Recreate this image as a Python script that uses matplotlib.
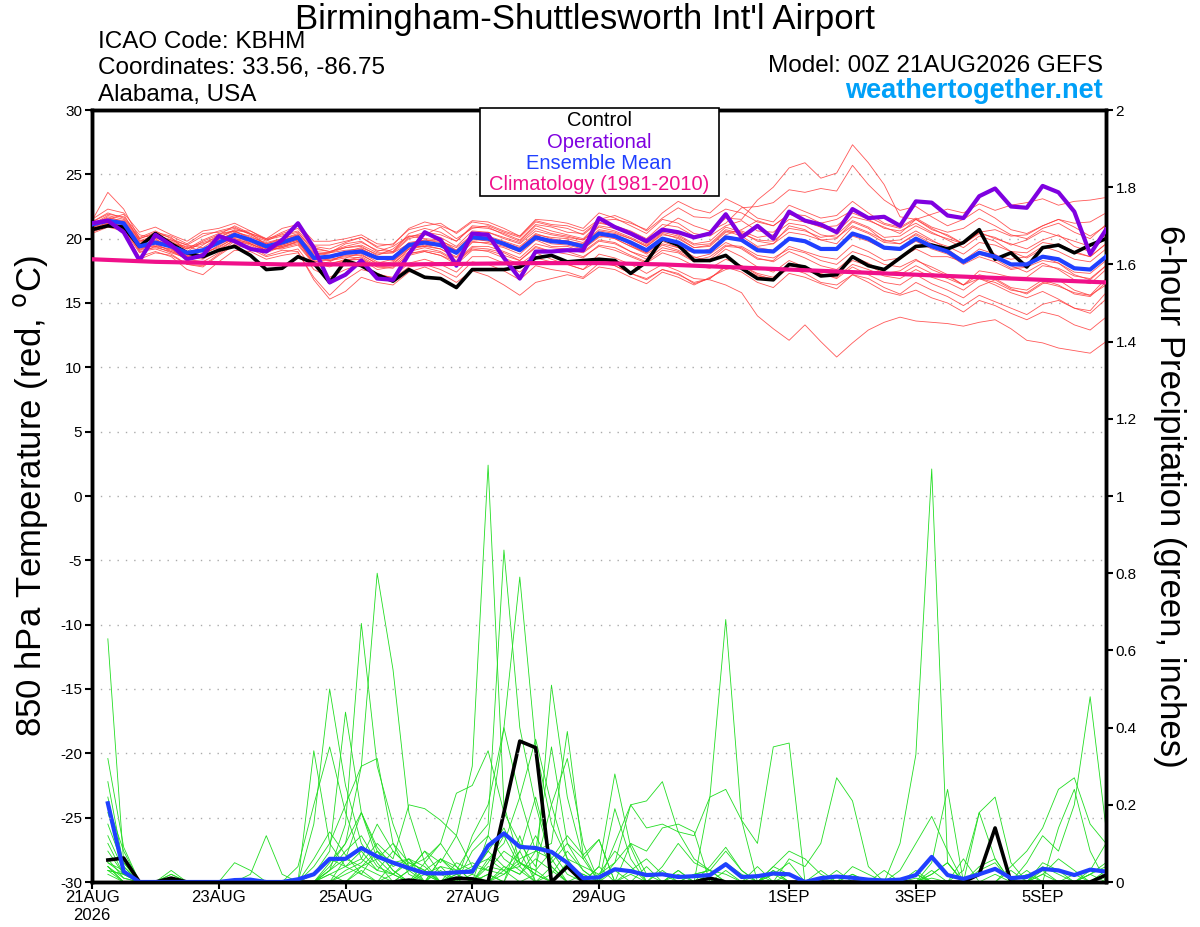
import numpy as np
import matplotlib
matplotlib.use("Agg")
import matplotlib.pyplot as plt
from matplotlib.patches import Rectangle

plt.rcParams['font.family'] = ['Liberation Sans', 'DejaVu Sans']
plt.rcParams['axes.unicode_minus'] = False

# forecast hours, 6-hourly out to 384 h
hours = np.arange(0, 385, 6)
precip_hours = hours[1:]

tick_hours = [0, 48, 96, 144, 192, 264, 312, 360]
tick_labels = ['21AUG\n2026', '23AUG', '25AUG', '27AUG', '29AUG', '1SEP', '3SEP', '5SEP']

# 850 hPa temperature (C)
control_temp = [20.7, 21.0, 20.9, 19.4, 20.4, 19.6, 18.9, 18.6, 19.1, 19.4, 18.7, 17.6, 17.7,
                18.6, 18.1, 16.6, 18.3, 17.9, 17.2, 16.7, 17.6, 17.0, 16.9, 16.2, 17.6, 17.6,
                17.6, 17.8, 18.5, 18.7, 18.2, 18.3, 18.4, 18.3, 17.3, 18.2, 20.0, 19.5, 18.3,
                18.3, 18.7, 17.7, 16.9, 16.8, 18.0, 17.8, 17.1, 17.2, 18.6, 17.9, 17.6, 18.5,
                19.4, 19.5, 19.2, 19.7, 20.7, 18.4, 18.9, 17.8, 19.3, 19.5, 18.9, 19.5, 20.0]
oper_temp = [21.2, 21.4, 20.5, 18.3, 20.3, 19.5, 18.4, 18.7, 20.2, 19.8, 19.2, 19.0, 19.9,
             21.2, 19.3, 16.6, 17.2, 18.3, 16.9, 16.8, 18.8, 20.5, 19.9, 17.9, 20.4, 20.3,
             18.5, 16.9, 19.0, 19.0, 19.1, 19.1, 21.6, 20.9, 20.4, 19.8, 20.7, 20.5, 20.1,
             20.4, 21.9, 20.1, 21.0, 20.0, 22.1, 21.4, 21.1, 20.5, 22.3, 21.6, 21.7, 21.0,
             22.9, 22.8, 21.8, 21.6, 23.3, 23.9, 22.5, 22.4, 24.1, 23.6, 22.1, 18.8, 20.7]
mean_temp = [21.1, 21.4, 21.2, 19.4, 19.7, 19.4, 18.9, 19.1, 19.7, 20.3, 19.9, 19.4, 19.7,
             20.1, 18.5, 18.6, 18.9, 19.0, 18.5, 18.5, 19.5, 19.7, 19.5, 18.9, 20.1, 20.0,
             19.6, 19.1, 20.1, 19.8, 19.7, 19.4, 20.4, 20.2, 19.7, 19.1, 20.0, 19.7, 19.0,
             19.0, 20.1, 19.9, 19.1, 19.0, 20.0, 19.8, 19.2, 19.2, 20.4, 20.0, 19.3, 19.2,
             20.0, 19.4, 19.0, 18.2, 18.9, 18.6, 18.0, 18.0, 18.6, 18.4, 17.7, 17.6, 18.6]
clim_days = np.arange(0, 17) * 24
clim_temp = [18.4, 18.2, 18.1, 18.0, 18.0, 18.0, 18.05, 18.1, 18.1, 18.0, 17.8, 17.6,
             17.4, 17.2, 17.0, 16.8, 16.6]

temp_members = [
    [21.3, 22.0, 21.6, 20.1, 20.6, 20.0, 19.5, 20.2, 20.6, 20.9, 20.3, 19.8, 20.4,
     20.8, 19.4, 19.2, 19.7, 20.1, 19.3, 19.0, 20.4, 20.8, 20.5, 19.8, 21.0, 20.9,
     20.3, 19.8, 21.0, 20.6, 20.3, 20.0, 21.2, 21.0, 20.6, 20.0, 21.1, 20.9, 20.2,
     20.5, 21.6, 21.5, 23.0, 24.0, 25.5, 25.9, 24.7, 25.1, 27.3, 25.9, 24.2, 21.7,
     21.5, 20.8, 20.2, 19.6, 20.5, 20.0, 19.6, 19.2, 19.9, 20.3, 19.4, 19.0, 20.1],
    [20.8, 21.5, 21.9, 19.8, 20.0, 19.2, 18.7, 19.5, 20.3, 20.6, 20.6, 19.9, 20.2,
     20.5, 19.0, 18.9, 19.6, 19.8, 19.0, 19.4, 20.2, 20.3, 20.9, 20.0, 20.8, 21.0,
     20.5, 20.1, 21.3, 21.0, 20.8, 20.3, 21.3, 20.9, 20.4, 19.8, 20.8, 21.6, 21.0,
     20.6, 21.2, 22.4, 22.5, 22.8, 23.8, 23.6, 23.9, 23.7, 25.7, 24.2, 23.0, 22.2,
     22.5, 21.7, 21.0, 21.5, 22.3, 21.6, 20.7, 20.4, 21.0, 21.5, 20.9, 20.2, 21.0],
    [20.6, 21.0, 20.8, 19.0, 19.2, 18.8, 18.0, 17.8, 18.7, 19.5, 19.2, 18.6, 18.9,
     19.2, 17.6, 17.0, 17.6, 18.0, 17.2, 17.0, 18.1, 18.4, 18.0, 17.4, 18.6, 18.6,
     18.1, 17.4, 18.5, 18.2, 18.0, 17.6, 18.8, 18.5, 18.0, 17.3, 18.0, 17.5, 16.9,
     16.8, 16.4, 15.8, 14.0, 13.0, 12.1, 13.3, 12.0, 10.8, 11.9, 12.9, 13.5, 13.9,
     13.6, 13.5, 13.4, 13.2, 13.5, 13.7, 13.0, 12.1, 11.9, 11.5, 11.3, 11.1, 12.0],
    [21.5, 22.3, 22.0, 20.5, 20.9, 20.3, 19.8, 20.6, 20.8, 21.2, 20.6, 20.0, 20.8,
     21.1, 19.8, 19.8, 20.0, 20.3, 19.6, 19.5, 20.8, 21.3, 21.0, 20.5, 21.4, 21.3,
     20.8, 20.2, 21.5, 21.4, 21.2, 20.8, 22.0, 21.6, 21.0, 20.4, 21.5, 21.2, 20.4,
     20.2, 21.0, 21.4, 20.6, 20.5, 21.5, 21.3, 20.9, 20.5, 21.7, 21.4, 20.9, 20.4,
     21.5, 21.9, 22.3, 22.0, 22.7, 22.2, 22.6, 22.8, 23.1, 22.6, 22.9, 23.0, 23.2],
    [20.4, 20.9, 20.6, 18.6, 19.0, 18.6, 17.6, 17.2, 18.2, 19.1, 19.0, 18.4, 18.7,
     18.9, 17.0, 15.6, 16.8, 17.6, 17.3, 16.9, 17.8, 18.0, 17.6, 17.0, 18.2, 18.0,
     17.5, 16.8, 17.9, 17.6, 17.4, 17.0, 18.1, 17.9, 17.3, 16.9, 17.6, 17.3, 16.5,
     16.9, 17.8, 17.4, 16.6, 16.2, 17.3, 17.0, 16.5, 16.1, 17.2, 16.9, 16.2, 15.7,
     16.6, 16.0, 15.5, 14.8, 15.6, 15.1, 14.6, 14.1, 14.9, 15.2, 14.6, 14.2, 15.3],
    [21.0, 21.7, 21.3, 19.7, 20.2, 19.8, 19.2, 19.6, 20.0, 20.4, 19.6, 19.0, 19.5,
     19.9, 18.0, 18.2, 18.8, 19.2, 18.6, 18.3, 19.2, 19.5, 19.2, 18.5, 19.7, 19.7,
     19.4, 19.0, 20.2, 19.9, 19.8, 19.6, 20.6, 20.4, 20.0, 19.4, 20.4, 20.0, 19.3,
     19.5, 20.6, 20.2, 19.4, 19.6, 21.0, 20.7, 19.9, 20.0, 21.3, 20.8, 19.8, 19.9,
     20.6, 19.9, 19.2, 18.3, 19.2, 18.8, 17.9, 17.4, 18.1, 17.6, 16.8, 16.5, 17.6],
    [20.9, 21.2, 21.0, 19.2, 19.5, 19.1, 18.6, 18.8, 19.4, 20.0, 19.8, 19.3, 19.4,
     19.8, 18.6, 18.3, 18.5, 18.9, 18.2, 18.0, 19.2, 19.4, 19.6, 19.0, 20.0, 19.8,
     19.6, 19.2, 20.3, 19.7, 19.9, 19.2, 20.1, 20.3, 19.5, 18.9, 19.8, 19.3, 18.6,
     18.2, 19.2, 18.6, 17.8, 17.4, 18.3, 17.8, 17.3, 16.9, 17.8, 17.2, 16.6, 16.4,
     17.2, 16.5, 16.0, 15.4, 16.3, 16.8, 16.1, 15.7, 16.5, 16.8, 16.0, 15.6, 16.9],
    [21.2, 21.6, 21.4, 19.9, 19.8, 19.6, 19.4, 19.0, 19.9, 20.5, 20.2, 19.6, 20.0,
     20.3, 18.9, 18.7, 19.0, 19.3, 18.8, 18.9, 19.6, 19.9, 19.8, 19.3, 20.3, 20.2,
     19.8, 19.4, 20.4, 20.0, 19.8, 19.5, 20.5, 20.0, 19.4, 18.8, 19.6, 19.3, 18.9,
     19.2, 20.3, 20.7, 21.4, 21.0, 21.9, 21.8, 21.2, 21.5, 22.2, 21.7, 21.1, 20.8,
     21.5, 20.7, 20.3, 19.6, 20.4, 20.1, 19.5, 19.9, 20.6, 20.2, 19.8, 19.4, 20.3],
    [20.7, 21.3, 21.1, 19.5, 19.6, 19.0, 18.4, 18.2, 18.9, 19.8, 19.6, 19.1, 19.3,
     19.6, 18.1, 17.8, 18.3, 18.6, 17.9, 18.1, 19.0, 19.3, 19.0, 18.3, 19.4, 19.4,
     19.0, 18.5, 19.6, 19.3, 19.2, 18.9, 19.8, 19.6, 19.0, 18.4, 19.3, 19.0, 18.3,
     18.6, 19.5, 19.4, 18.7, 18.5, 19.2, 18.9, 18.3, 18.0, 19.0, 18.6, 18.0, 17.8,
     18.4, 17.6, 17.1, 16.4, 17.2, 16.9, 16.2, 16.0, 16.8, 16.4, 15.7, 15.5, 16.6],
    [21.4, 23.6, 22.3, 20.0, 20.4, 20.1, 19.0, 19.8, 20.3, 21.0, 20.4, 19.5, 19.8,
     20.3, 18.7, 18.9, 19.3, 19.5, 18.9, 18.9, 20.0, 20.3, 20.1, 19.4, 20.6, 20.5,
     20.0, 19.6, 20.6, 20.3, 20.1, 19.9, 21.0, 20.8, 20.3, 19.6, 20.7, 20.3, 19.6,
     19.8, 20.9, 20.5, 19.8, 19.6, 20.5, 20.3, 19.9, 19.6, 20.9, 20.4, 19.7, 19.6,
     20.3, 19.6, 19.1, 18.1, 18.8, 18.4, 17.7, 17.9, 18.6, 18.1, 17.2, 16.8, 17.9],
    [20.5, 21.0, 20.7, 18.9, 19.4, 19.2, 18.3, 18.9, 19.3, 20.1, 19.9, 19.0, 19.6,
     20.0, 18.4, 18.5, 18.8, 18.8, 18.0, 18.2, 19.3, 19.6, 19.4, 18.8, 19.9, 19.9,
     19.5, 19.0, 20.0, 19.6, 19.5, 19.2, 20.2, 20.0, 19.4, 18.9, 19.9, 19.6, 18.9,
     19.1, 20.2, 20.0, 19.3, 19.1, 20.0, 19.7, 19.1, 19.2, 20.2, 19.8, 19.2, 19.1,
     19.8, 19.2, 18.8, 18.0, 18.6, 18.2, 17.6, 17.8, 18.3, 18.1, 17.4, 17.3, 18.3],
    [20.6, 21.1, 20.5, 18.4, 18.9, 18.7, 18.0, 17.9, 18.8, 19.6, 19.4, 18.7, 19.1,
     19.0, 16.8, 15.3, 15.9, 17.0, 16.6, 16.4, 17.4, 17.8, 17.3, 16.6, 17.5, 17.1,
     16.4, 15.6, 16.6, 16.9, 17.2, 16.9, 17.8, 17.6, 17.0, 16.5, 17.4, 17.0, 16.4,
     17.0, 17.6, 17.9, 17.3, 17.0, 18.0, 17.6, 17.1, 17.4, 18.3, 17.9, 17.3, 17.5,
     18.3, 17.8, 17.2, 16.4, 16.9, 16.4, 15.8, 15.4, 15.9, 15.3, 14.6, 14.4, 15.8],
    [21.1, 21.8, 21.5, 20.0, 20.5, 20.2, 19.6, 20.4, 20.5, 20.8, 20.4, 19.9, 20.5,
     21.0, 19.5, 19.5, 19.8, 20.1, 19.4, 19.6, 20.7, 21.0, 21.2, 20.4, 21.3, 21.1,
     20.6, 20.2, 21.4, 21.1, 21.0, 20.6, 21.5, 21.8, 21.3, 20.6, 21.6, 22.4, 21.7,
     21.6, 22.3, 22.0, 21.3, 21.0, 21.9, 21.5, 20.9, 21.0, 22.0, 21.5, 20.8, 20.6,
     21.2, 20.5, 19.9, 19.3, 20.2, 19.8, 19.0, 18.5, 19.2, 19.6, 19.0, 18.6, 19.6],
    [21.0, 21.4, 21.2, 19.6, 20.1, 19.7, 19.2, 19.9, 20.4, 20.6, 20.1, 19.7, 20.0,
     20.4, 19.2, 19.0, 19.4, 19.7, 19.1, 19.0, 20.1, 20.5, 20.3, 19.8, 20.9, 20.8,
     20.4, 19.9, 21.1, 20.9, 20.5, 20.4, 21.4, 21.5, 21.2, 20.7, 22.0, 22.9, 22.3,
     22.0, 23.1, 22.5, 21.6, 21.3, 22.6, 22.1, 21.6, 21.8, 22.9, 22.0, 21.2, 20.9,
     21.6, 20.9, 20.5, 20.8, 21.6, 21.0, 20.3, 20.0, 20.8, 21.2, 20.5, 20.0, 21.1],
    [20.8, 21.1, 20.9, 19.1, 19.7, 19.3, 18.7, 18.5, 19.1, 19.9, 19.5, 18.9, 19.4,
     19.7, 18.3, 18.1, 18.3, 18.4, 17.6, 17.8, 18.7, 19.0, 18.7, 18.0, 19.1, 19.1,
     18.7, 18.3, 19.3, 19.0, 19.0, 18.6, 19.4, 19.1, 18.6, 18.1, 18.9, 18.5, 17.9,
     17.7, 18.4, 17.9, 17.2, 16.8, 17.7, 17.3, 16.6, 16.4, 17.2, 16.6, 15.9, 15.6,
     16.0, 15.4, 15.0, 14.3, 15.2, 14.8, 14.2, 13.7, 14.3, 14.0, 13.3, 12.9, 13.9],
    [21.3, 21.9, 21.7, 20.3, 20.0, 19.9, 19.5, 19.3, 20.1, 20.7, 20.4, 20.0, 20.3,
     20.6, 19.3, 19.0, 19.3, 19.4, 18.7, 19.2, 20.2, 20.0, 19.9, 19.1, 20.3, 20.5,
     20.1, 19.7, 20.8, 20.4, 20.2, 19.9, 20.9, 20.6, 20.1, 19.5, 20.5, 20.2, 19.5,
     19.6, 20.7, 20.4, 19.9, 19.8, 20.8, 20.6, 20.1, 20.3, 21.4, 20.9, 20.1, 20.2,
     21.0, 20.4, 20.0, 19.6, 20.5, 20.7, 20.2, 20.3, 21.0, 21.5, 21.2, 21.3, 22.0],
    [20.6, 21.2, 21.0, 19.3, 19.4, 18.9, 18.5, 18.7, 19.5, 20.2, 19.8, 19.2, 19.5,
     19.9, 18.4, 18.3, 18.7, 18.7, 18.1, 18.4, 19.4, 19.4, 19.2, 18.6, 19.8, 19.6,
     19.3, 18.8, 19.9, 19.4, 19.4, 19.0, 19.9, 19.7, 19.0, 18.6, 19.5, 19.1, 18.5,
     18.8, 19.7, 19.2, 18.4, 18.3, 19.4, 19.0, 18.6, 18.4, 19.5, 19.0, 18.3, 18.5,
     19.2, 18.6, 18.6, 18.2, 19.0, 18.7, 18.4, 18.6, 19.4, 19.0, 18.4, 18.2, 19.2],
    [20.9, 21.4, 21.1, 19.3, 19.9, 19.5, 18.8, 19.2, 19.6, 20.0, 19.6, 19.1, 19.3,
     19.8, 18.2, 18.4, 18.6, 18.5, 17.8, 17.9, 18.9, 19.0, 18.7, 18.2, 19.2, 19.0,
     18.5, 18.0, 18.9, 18.4, 18.0, 17.6, 18.3, 17.9, 17.3, 16.8, 17.6, 17.2, 16.6,
     16.9, 17.9, 17.7, 17.1, 16.9, 17.9, 17.7, 17.2, 17.0, 18.0, 17.6, 17.1, 16.9,
     17.6, 17.0, 16.6, 16.0, 16.9, 16.6, 16.0, 15.8, 16.6, 16.3, 15.8, 15.6, 16.4],
    [21.2, 21.5, 21.3, 19.8, 20.3, 19.9, 19.3, 19.7, 20.1, 20.6, 20.0, 19.6, 19.9,
     20.2, 18.8, 18.9, 19.1, 19.2, 18.6, 18.6, 19.7, 19.9, 19.7, 19.1, 20.2, 20.1,
     19.7, 19.3, 20.3, 20.1, 20.0, 19.7, 20.7, 20.5, 20.0, 19.4, 20.3, 20.1, 19.3,
     19.4, 20.5, 20.6, 20.1, 20.3, 21.2, 21.0, 20.3, 20.1, 21.0, 20.5, 19.9, 19.6,
     20.4, 19.8, 19.4, 18.8, 19.7, 19.5, 19.0, 18.9, 19.7, 19.5, 18.9, 18.6, 19.6],
    [20.7, 21.0, 20.9, 19.1, 19.3, 19.0, 18.6, 18.4, 19.2, 19.9, 19.7, 19.2, 19.2,
     19.5, 18.0, 18.0, 18.4, 18.4, 17.8, 17.7, 18.8, 19.1, 18.9, 18.2, 19.3, 19.2,
     18.9, 18.3, 19.4, 19.0, 18.8, 18.5, 19.5, 19.3, 18.7, 18.2, 19.1, 18.9, 18.2,
     18.4, 19.4, 19.3, 18.5, 18.2, 19.0, 18.5, 17.9, 17.6, 18.6, 18.1, 17.4, 17.2,
     17.9, 17.3, 16.9, 16.4, 17.5, 17.3, 17.0, 17.0, 17.9, 17.7, 17.1, 16.9, 17.9],
]

# 6-hour precipitation (inches), from hour 6 on
control_precip = [0.057, 0.062, 0, 0, 0.01, 0, 0, 0, 0, 0, 0, 0, 0, 0, 0, 0,
                  0, 0, 0, 0.005, 0, 0, 0.01, 0.008, 0, 0.18, 0.365, 0.348, 0, 0.04, 0, 0,
                  0, 0, 0, 0, 0, 0, 0.01, 0, 0, 0, 0, 0, 0, 0, 0, 0,
                  0, 0, 0, 0, 0, 0, 0, 0.02, 0.14, 0, 0, 0, 0, 0, 0, 0.018]
mean_precip = [0.204, 0.027, 0, 0, 0, 0, 0, 0, 0.005, 0.006, 0, 0, 0.007, 0.02, 0.06, 0.06,
               0.088, 0.066, 0.05, 0.036, 0.023, 0.022, 0.025, 0.027, 0.094, 0.126, 0.091, 0.088, 0.078, 0.05, 0.01, 0.012,
               0.033, 0.028, 0.018, 0.02, 0.013, 0.015, 0.018, 0.046, 0.013, 0.015, 0.022, 0.02, 0, 0.01, 0.014, 0.011,
               0.006, 0.004, 0.006, 0.018, 0.065, 0.018, 0.008, 0.02, 0.034, 0.01, 0.013, 0.034, 0.03, 0.018, 0.032, 0.027]

# members in hundredths of an inch
precip_members_cents = [
    [63, 5, 0, 0, 0, 0, 0, 0, 0, 0, 0, 0, 0, 0, 3, 8, 12, 5, 0, 3, 8, 2, 0, 0, 5, 12, 4, 0, 2, 8, 3, 0,
     0, 3, 6, 2, 0, 0, 4, 9, 3, 0, 0, 2, 0, 0, 0, 4, 2, 0, 0, 1, 0, 0, 0, 3, 5, 0, 0, 2, 6, 3, 0, 0],
    [32, 9, 0, 0, 2, 0, 0, 0, 0, 0, 0, 0, 0, 2, 6, 4, 8, 3, 2, 5, 3, 6, 2, 0, 4, 3, 8, 22, 6, 0, 2, 0,
     10, 20, 21, 26, 13, 6, 3, 0, 0, 0, 2, 5, 0, 0, 3, 0, 0, 0, 0, 0, 2, 5, 0, 0, 2, 0, 0, 5, 3, 0, 2, 4],
    [26, 4, 0, 0, 3, 0, 0, 0, 5, 3, 0, 0, 0, 0, 2, 0, 4, 8, 3, 0, 2, 4, 0, 2, 8, 4, 2, 6, 3, 0, 0, 4,
     28, 9, 0, 0, 3, 0, 2, 5, 2, 0, 0, 0, 0, 0, 0, 2, 0, 0, 0, 3, 0, 0, 0, 0, 0, 0, 0, 4, 2, 0, 3, 10],
    [22, 3, 0, 0, 0, 0, 0, 0, 0, 0, 0, 0, 0, 34, 10, 4, 2, 0, 5, 3, 0, 0, 2, 0, 12, 6, 3, 0, 0, 5, 0, 2,
     5, 20, 14, 15, 13, 12, 22, 24, 16, 10, 35, 36, 0, 1, 0, 0, 0, 0, 0, 2, 0, 0, 0, 0, 0, 0, 0, 0, 0, 0, 0, 0],
    [20, 8, 0, 0, 0, 0, 0, 0, 0, 0, 0, 0, 0, 15, 50, 25, 10, 4, 2, 0, 0, 3, 0, 0, 6, 3, 0, 2, 0, 0, 0, 0,
     0, 0, 0, 4, 10, 5, 3, 8, 3, 0, 0, 0, 0, 0, 0, 0, 0, 0, 0, 0, 0, 0, 0, 0, 0, 0, 2, 0, 0, 0, 0, 3],
    [18, 5, 0, 0, 0, 0, 0, 0, 0, 0, 0, 0, 4, 20, 35, 18, 6, 15, 8, 4, 0, 6, 4, 0, 0, 2, 5, 3, 8, 2, 0, 0,
     5, 10, 2, 0, 0, 0, 0, 0, 0, 0, 0, 6, 4, 10, 27, 21, 4, 0, 0, 0, 1, 0, 0, 0, 0, 0, 0, 0, 0, 0, 0, 0],
    [15, 4, 0, 0, 2, 0, 0, 0, 0, 2, 12, 2, 0, 0, 5, 10, 18, 8, 3, 0, 5, 10, 4, 0, 2, 0, 12, 0, 4, 0, 0, 0,
     0, 0, 0, 0, 0, 2, 3, 0, 0, 0, 4, 2, 0, 0, 0, 2, 0, 0, 0, 0, 0, 0, 3, 18, 22, 5, 0, 0, 0, 2, 0, 0],
    [12, 3, 0, 0, 0, 0, 0, 0, 0, 0, 0, 0, 0, 6, 13, 7, 2, 8, 5, 6, 0, 4, 3, 2, 0, 4, 2, 8, 6, 12, 7, 0,
     3, 0, 4, 0, 3, 0, 22, 68, 16, 0, 2, 0, 0, 0, 0, 0, 0, 0, 0, 0, 0, 0, 0, 0, 0, 0, 0, 3, 0, 0, 0, 0],
    [10, 2, 0, 0, 0, 0, 0, 0, 0, 0, 0, 0, 0, 2, 8, 44, 18, 6, 2, 0, 3, 0, 5, 3, 8, 14, 5, 2, 0, 0, 0, 0,
     0, 0, 0, 0, 0, 2, 3, 2, 0, 4, 0, 0, 0, 0, 0, 0, 0, 0, 0, 0, 3, 0, 0, 0, 0, 0, 0, 0, 0, 0, 2, 0],
    [8, 2, 0, 0, 0, 0, 0, 0, 0, 0, 0, 0, 0, 0, 3, 15, 67, 30, 15, 4, 2, 0, 0, 0, 0, 3, 4, 12, 4, 0, 0, 0,
     0, 2, 0, 0, 2, 0, 0, 0, 0, 0, 3, 0, 0, 0, 0, 0, 0, 0, 0, 0, 2, 5, 0, 0, 0, 3, 0, 0, 0, 0, 2, 5],
    [6, 1, 0, 0, 0, 0, 0, 0, 0, 0, 0, 0, 0, 4, 10, 20, 30, 80, 55, 18, 5, 0, 0, 0, 2, 0, 8, 0, 0, 0, 0, 0,
     0, 0, 0, 3, 0, 0, 0, 0, 0, 0, 0, 0, 0, 0, 0, 0, 0, 0, 0, 2, 0, 0, 0, 0, 0, 0, 0, 0, 0, 0, 0, 0],
    [5, 2, 0, 0, 0, 0, 0, 0, 0, 0, 0, 0, 0, 0, 4, 10, 30, 32, 10, 5, 3, 0, 2, 4, 6, 10, 22, 37, 20, 6, 4, 2,
     8, 4, 0, 0, 0, 0, 0, 0, 0, 2, 0, 0, 0, 0, 0, 0, 0, 3, 0, 2, 0, 0, 6, 0, 0, 0, 0, 0, 14, 24, 8, 0],
    [4, 0, 0, 0, 0, 0, 0, 0, 0, 0, 0, 0, 0, 0, 0, 6, 18, 9, 4, 6, 2, 0, 3, 5, 3, 8, 5, 2, 51, 22, 6, 0,
     0, 0, 0, 0, 0, 0, 0, 0, 0, 0, 3, 0, 0, 0, 0, 0, 0, 0, 3, 10, 17, 8, 0, 0, 0, 0, 0, 0, 0, 0, 0, 0],
    [4, 1, 0, 0, 0, 0, 0, 0, 0, 0, 0, 0, 0, 0, 0, 3, 5, 10, 6, 20, 19, 16, 12, 4, 3, 2, 6, 8, 10, 39, 7, 11,
     0, 0, 0, 0, 0, 0, 0, 0, 0, 0, 0, 0, 0, 0, 0, 0, 0, 0, 0, 0, 0, 0, 0, 0, 0, 0, 0, 0, 0, 0, 0, 0],
    [3, 2, 0, 0, 0, 0, 0, 0, 0, 0, 0, 0, 0, 0, 2, 4, 6, 3, 8, 4, 6, 10, 23, 25, 34, 18, 10, 4, 20, 32, 10, 0,
     0, 0, 0, 0, 0, 0, 0, 3, 0, 0, 4, 8, 6, 2, 0, 0, 0, 0, 10, 33, 107, 5, 0, 4, 6, 0, 0, 2, 0, 0, 0, 0],
    [3, 0, 0, 0, 0, 0, 0, 0, 0, 0, 0, 0, 0, 0, 0, 2, 4, 2, 0, 3, 8, 5, 12, 30, 108, 20, 5, 3, 0, 0, 0, 4,
     0, 0, 0, 0, 0, 0, 0, 0, 0, 0, 0, 0, 0, 3, 0, 0, 0, 0, 0, 0, 5, 24, 0, 0, 0, 0, 0, 0, 0, 0, 0, 0],
    [5, 3, 0, 0, 0, 0, 0, 0, 0, 0, 0, 0, 0, 0, 3, 6, 4, 6, 10, 2, 0, 6, 3, 10, 15, 86, 40, 20, 5, 10, 3, 0,
     19, 6, 0, 0, 0, 0, 0, 0, 0, 0, 0, 0, 0, 0, 0, 0, 0, 0, 0, 0, 0, 0, 0, 0, 0, 0, 0, 0, 0, 0, 0, 0],
    [4, 0, 0, 0, 0, 0, 0, 0, 0, 0, 0, 0, 0, 0, 0, 0, 3, 0, 2, 6, 4, 0, 0, 8, 12, 40, 79, 35, 15, 6, 0, 0,
     0, 0, 0, 0, 0, 0, 0, 0, 0, 0, 0, 0, 0, 0, 0, 0, 0, 0, 0, 0, 0, 0, 0, 18, 6, 0, 3, 0, 0, 0, 0, 0],
    [3, 2, 0, 0, 0, 0, 0, 0, 0, 0, 0, 0, 0, 0, 0, 0, 0, 0, 0, 0, 3, 0, 0, 12, 20, 40, 22, 8, 35, 10, 6, 11,
     0, 10, 8, 14, 15, 13, 0, 0, 0, 0, 0, 0, 0, 0, 0, 0, 0, 0, 0, 0, 0, 0, 0, 0, 0, 0, 5, 12, 8, 20, 48, 14],
    [2, 0, 0, 0, 0, 0, 0, 0, 0, 0, 0, 0, 0, 0, 0, 0, 0, 0, 0, 0, 0, 0, 0, 0, 0, 0, 0, 0, 0, 4, 2, 0,
     0, 0, 0, 0, 0, 0, 0, 0, 0, 0, 0, 0, 0, 0, 0, 0, 0, 0, 0, 0, 0, 0, 0, 0, 0, 4, 8, 14, 24, 27, 15, 10],
]

RED = '#ff3a3a'
GREEN = '#22dd22'
PURPLE = '#7f00e0'
BLUE = '#2040ff'
PINK = '#f0108a'

fig = plt.figure(figsize=(12, 9.27), dpi=100)
ax = fig.add_axes([92 / 1200, 45 / 927, 1014 / 1200, 772 / 927])
ax2 = ax.twinx()

# precipitation on the right axis
for m in precip_members_cents:
    ax2.plot(precip_hours, np.array(m) / 100.0, color=GREEN, lw=0.6, zorder=1)
ax2.plot(precip_hours, control_precip, color='black', lw=2.6, zorder=3)
ax2.plot(precip_hours, mean_precip, color=BLUE, lw=3, zorder=4)
ax2.set_ylim(0, 2)
ax2.set_yticks(np.arange(0, 2.01, 0.2))
ax2.set_yticklabels(['0', '0.2', '0.4', '0.6', '0.8', '1', '1.2', '1.4', '1.6', '1.8', '2'])

# temperature on the left axis, drawn on top
ax.set_zorder(ax2.get_zorder() + 1)
ax.patch.set_visible(False)
for m in temp_members:
    ax.plot(hours, m, color=RED, lw=0.6, alpha=0.85, zorder=2)
ax.plot(hours, control_temp, color='black', lw=2.6, zorder=4)
ax.plot(hours, mean_temp, color=BLUE, lw=3, zorder=5)
ax.plot(hours, oper_temp, color=PURPLE, lw=3, zorder=6)
ax.plot(clim_days, clim_temp, color=PINK, lw=3, zorder=7)

ax.set_xlim(0, 384)
ax.set_ylim(-30, 30)
ax.set_yticks(np.arange(-30, 31, 5))
for y in range(-25, 30, 5):
    ax.axhline(y, color='#aaaaaa', lw=1.0, ls=(0, (1, 5)), zorder=0)
ax.set_xticks(tick_hours)
ax.set_xticklabels(tick_labels)

for a in (ax, ax2):
    for s in a.spines.values():
        s.set_linewidth(2.5)
    a.tick_params(axis='both', width=1.5, length=5, labelsize=11, pad=2)
ax.tick_params(axis='x', labelsize=12, pad=1)

ax.set_ylabel('850 hPa Temperature (red, $^{\\mathrm{o}}$C)', fontsize=25, va='center')
ax.yaxis.set_label_coords(-0.061, 0.5)
ax2.set_ylabel('6-hour Precipitation (green, inches)', fontsize=25, rotation=-90, va='center')
ax2.yaxis.set_label_coords(1.063, 0.5)

# legend box
ax.add_patch(Rectangle((0.3826, 0.8886), 0.2357, 0.1140, transform=ax.transAxes,
                       facecolor='white', edgecolor='black', lw=1.2, zorder=10, clip_on=False))
leg = [('Control', 'black'), ('Operational', PURPLE), ('Ensemble Mean', BLUE),
       ('Climatology (1981-2010)', PINK)]
for k, (txt, c) in enumerate(leg):
    ax.text(0.5, (882 - 121 - k * 21.3) / 772, txt, color=c, fontsize=14.5, ha='center', va='center',
            transform=ax.transAxes, zorder=11)

# header
fig.text(585 / 1200, 1 - 20 / 927, "Birmingham-Shuttlesworth Int'l Airport", fontsize=25,
         ha='center', va='center')
fig.text(98 / 1200, 1 - 42 / 927, 'ICAO Code: KBHM', fontsize=17.5, ha='left', va='center')
fig.text(98 / 1200, 1 - 68 / 927, 'Coordinates: 33.56, -86.75', fontsize=17.5, ha='left', va='center')
fig.text(98 / 1200, 1 - 95 / 927, 'Alabama, USA', fontsize=17.5, ha='left', va='center')
fig.text(1103 / 1200, 1 - 66 / 927, 'Model: 00Z 21AUG2026 GEFS', fontsize=17.5, ha='right', va='center')
fig.text(1103 / 1200, 1 - 91 / 927, 'weathertogether.net', fontsize=19.5, ha='right', va='center',
         color='#00a0f8', fontweight='bold')

fig.savefig('out.png', dpi=100)
